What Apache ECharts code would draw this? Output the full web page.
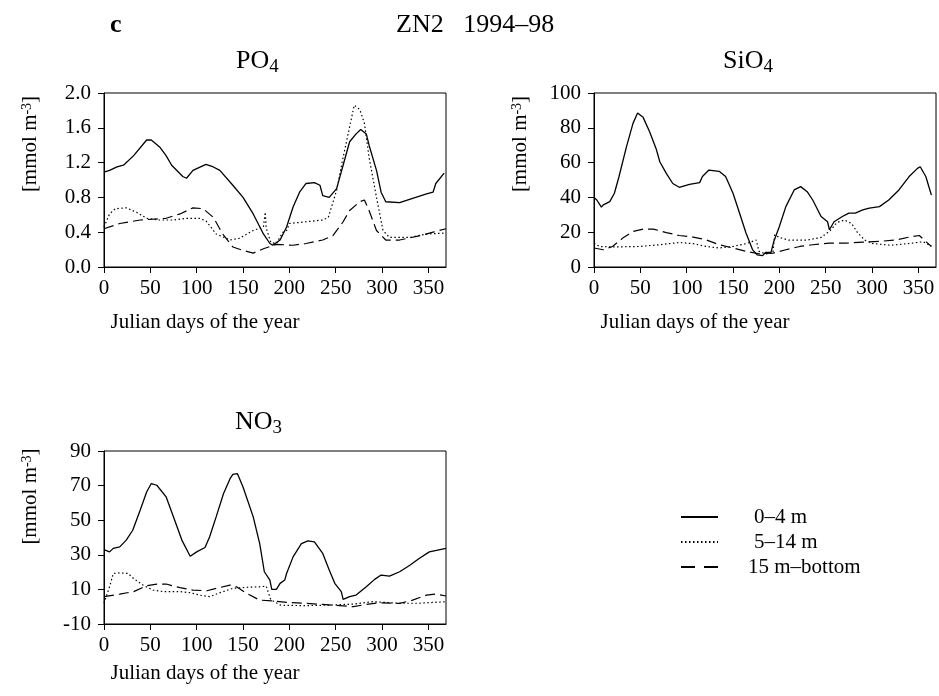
<!DOCTYPE html>
<html>
<head>
<meta charset="utf-8">
<script src="https://cdn.jsdelivr.net/npm/echarts@6/dist/echarts.min.js"></script>
<style>
html, body { margin: 0; padding: 0; background: #fff; }
#main { width: 939px; height: 696px; }
</style>
</head>
<body>
<div id="main"></div>
<script>
// series names (depth layers)
var layers = ['0\u20134 m', '5\u201314 m', '15 m\u2013bottom'];
var xTicks = [0, 50, 100, 150, 200, 250, 300, 350];

// PO4 [day, mmol m-3]
var po4Surf = [[0,1.09],[6,1.11],[14,1.15],[21,1.17],[32,1.28],[46,1.46],[51,1.46],[60,1.38],[67,1.28],[73,1.17],
  [85,1.04],[89,1.02],[96,1.11],[110,1.18],[118,1.15],[125,1.11],[139,0.94],[150,0.80],[161,0.61],[172,0.38],
  [179,0.27],[182,0.25],[190,0.31],[197,0.46],[204,0.69],[211,0.86],[218,0.96],[227,0.97],[233,0.94],[236,0.82],
  [243,0.80],[251,0.90],[258,1.17],[265,1.44],[272,1.53],[277,1.58],[283,1.53],[286,1.40],[294,1.11],[299,0.86],
  [304,0.75],[319,0.74],[333,0.79],[348,0.84],[355,0.86],[358,0.96],[367,1.08]];
var po4Mid = [[0,0.46],[6,0.61],[12,0.67],[24,0.68],[35,0.63],[46,0.56],[60,0.54],[75,0.54],[89,0.56],[103,0.56],
  [110,0.53],[121,0.38],[136,0.31],[146,0.33],[161,0.42],[172,0.46],[174,0.63],[175,0.45],[180,0.28],[186,0.27],
  [193,0.40],[197,0.42],[200,0.50],[218,0.52],[236,0.54],[242,0.57],[251,0.88],[258,1.26],[265,1.61],[270,1.86],
  [276,1.81],[281,1.65],[286,1.26],[294,0.80],[301,0.42],[308,0.34],[330,0.34],[348,0.38],[369,0.39]];
var po4Bot = [[0,0.44],[17,0.50],[39,0.54],[67,0.56],[82,0.61],[96,0.68],[107,0.67],[118,0.57],[128,0.38],[139,0.23],
  [150,0.19],[161,0.16],[172,0.21],[186,0.26],[204,0.25],[218,0.27],[236,0.31],[247,0.36],[258,0.52],[265,0.65],
  [276,0.75],[281,0.77],[286,0.65],[294,0.42],[304,0.31],[319,0.31],[341,0.36],[355,0.40],[369,0.44]];

// SiO4
var sio4Surf = [[0,40],[3,38.5],[8,34.4],[10,35.7],[17,37.6],[22,42.4],[27,52],[35,69],[42,82.4],[47,88.5],
  [53,86],[60,77.7],[67,68],[71,60.5],[78,53.8],[85,48],[92,45.8],[103,47.5],[114,48.5],[117,52],[124,55.7],
  [135,55],[142,52],[150,42.4],[157,31],[164,19.5],[171,10],[176,7],[182,6.5],[185,8.4],[191,8.4],[194,14.7],
  [200,23.3],[207,34.7],[216,44.3],[223,46.2],[230,43.3],[236,38.5],[245,29],[252,26],[254,21.4],[259,26],
  [268,29],[275,31],[282,31],[290,32.8],[297,33.8],[308,34.7],[318,38.5],[329,44.3],[340,52],[349,56.7],
  [352,57.6],[358,52],[364,41.4]];
var sio4Mid = [[0,13.7],[6,11.8],[20,11.5],[49,11.8],[71,12.8],[92,14.1],[107,13.4],[121,11.8],[135,10.9],
  [150,11.8],[164,13.4],[175,15.5],[178,9],[185,7.5],[193,8],[195,18.5],[200,17],[210,15.5],[230,15.5],
  [245,17],[255,21],[262,25.5],[270,27],[278,25],[284,20],[292,15.5],[300,13.5],[320,12.5],[340,13.5],
  [355,14.5],[364,12]];
var sio4Bot = [[0,10.9],[10,9.9],[20,11.8],[31,16.6],[42,20.4],[53,21.8],[64,21.8],[78,19.8],[92,18.1],
  [107,17.2],[121,15.6],[135,12.8],[150,10.9],[164,9],[178,7.6],[193,8],[207,9.9],[222,11.8],[236,12.8],
  [254,13.7],[272,13.7],[290,14.3],[308,14.7],[326,15.6],[344,17.6],[351,18.1],[356,15.6],[364,11.8]];

// NO3
var no3Surf = [[0,33],[6,31.7],[10,33.7],[17,34.6],[24,38.5],[31,44.2],[39,55.8],[46,66.3],[51,71.2],[57,70.2],
  [67,63.5],[75,51.9],[84,38.5],[93,29.2],[100,31.7],[109,34.2],[114,40.4],[121,51.9],[129,65.4],[136,74],
  [139,76.5],[144,76.9],[150,69.2],[161,51.9],[168,36.5],[173,20.2],[179,15.4],[181,10],[186,10],[190,13.5],
  [195,15.4],[197,19.2],[204,28.8],[213,36.5],[220,38],[227,37.5],[236,30.8],[243,21.2],[249,13.5],[256,8.7],
  [258,4.2],[265,5.8],[272,6.7],[283,11.5],[292,15.8],[299,18.3],[308,17.7],[319,20.2],[330,24],[340,27.9],
  [351,31.7],[369,33.7]];
var no3Mid = [[0,2],[6,11.5],[10,19.2],[17,19.6],[26,19.2],[32,16.3],[42,12.5],[53,9.6],[64,8.7],[82,8.7],
  [93,8.1],[103,6.7],[114,5.8],[125,8.1],[139,10.6],[154,11.2],[168,11.5],[175,11.9],[180,4],[190,1],
  [195,0.8],[218,0.6],[247,1],[269,1.5],[290,2.9],[319,2],[340,2],[369,2.9]];
var no3Bot = [[0,5.8],[17,7.3],[32,8.7],[46,12.1],[57,13.1],[67,13.1],[82,11],[96,9.6],[111,9.2],[121,10.6],
  [136,12.5],[143,11.5],[154,7.7],[168,3.8],[182,3.3],[197,2.5],[218,1.9],[236,1.3],[254,0.6],[269,0],
  [283,1.3],[297,2.3],[319,1.9],[333,3.8],[348,6.7],[358,7.3],[369,6.2]];

var FONT = 'Liberation Serif';
var myChart = echarts.init(document.getElementById('main'), null, {renderer: 'canvas'});

var lineTypes = ['solid', [1.5, 2.5], [10, 5]];

var makeX = function (i, gap) {
  return {
    type: 'value', gridIndex: i, min: 0, max: 369, interval: 50,
    name: 'Julian days of the year', nameLocation: 'middle', nameGap: gap,
    nameTextStyle: {fontFamily: FONT, fontSize: 21, color: '#000', padding: [0, 140, 0, 0]},
    axisLine: {show: true, onZero: false, lineStyle: {color: '#000', width: 1}},
    axisTick: {show: true, inside: false, length: 6, lineStyle: {color: '#000'}},
    axisLabel: {fontFamily: FONT, fontSize: 21, color: '#000', margin: 11, showMaxLabel: false},
    splitLine: {show: false}
  };
};
var makeY = function (i, min, max, step, fmt, shift) {
  return {
    type: 'value', gridIndex: i, min: min, max: max, interval: step,
    name: '[mmol m{sup|-3}]', nameLocation: 'middle', nameGap: 63, nameRotate: 90,
    nameTextStyle: {fontFamily: FONT, fontSize: 21, color: '#000', padding: [0, 0, 0, shift],
      rich: {sup: {fontFamily: FONT, fontSize: 14, color: '#000', verticalAlign: 'top'}}},
    axisLine: {show: true, onZero: false, lineStyle: {color: '#000', width: 1}},
    axisTick: {show: true, inside: false, length: 6, lineStyle: {color: '#000'}},
    axisLabel: {fontFamily: FONT, fontSize: 21, color: '#000', margin: 13, formatter: fmt},
    splitLine: {show: false}
  };
};
var makeSeries = function (g, arrs) {
  return arrs.map(function (d, k) {
    return {
      name: layers[k], type: 'line', xAxisIndex: g, yAxisIndex: g, data: d,
      showSymbol: false, symbol: 'none', smooth: false, animation: false,
      lineStyle: {color: '#000', width: k == 0 ? 1.3 : 1.2, type: lineTypes[k]},
      itemStyle: {color: '#000'}
    };
  });
};
var subTitle = function (main, sub, left, top) {
  return {
    text: '{a|' + main + '}{b|' + sub + '}', left: left, top: top, padding: 0,
    textStyle: {fontWeight: 'normal', rich: {
      a: {fontFamily: FONT, fontSize: 26, fontWeight: 'normal', color: '#000'},
      b: {fontFamily: FONT, fontSize: 19, fontWeight: 'normal', color: '#000', padding: [12, 0, 0, 0]}
    }}
  };
};

var option = {
  backgroundColor: '#fff',
  animation: false,
  title: [
    {text: 'c', left: 110, top: 12, padding: 0, textStyle: {fontFamily: FONT, fontSize: 26, fontWeight: 'bold', color: '#000'}},
    {text: 'ZN2   1994\u201398', left: 396, top: 12, padding: 0, textStyle: {fontFamily: FONT, fontSize: 26, fontWeight: 'normal', color: '#000'}},
    subTitle('PO', '4', 236, 46),
    subTitle('SiO', '4', 723, 46),
    subTitle('NO', '3', 235, 407)
  ],
  legend: {
    orient: 'vertical', left: 675, top: 501, itemWidth: 37, itemHeight: 14, itemGap: 3,
    itemStyle: {color: 'rgba(0,0,0,0)', borderColor: 'rgba(0,0,0,0)', borderWidth: 0},
    textStyle: {fontFamily: FONT, fontSize: 21, color: '#000', lineHeight: 22, padding: [0, 0, 0, 31]},
    data: [
      {name: layers[0]},
      {name: layers[1]},
      {name: layers[2], lineStyle: {type: [14, 9]}, textStyle: {padding: [0, 0, 0, 25]}}
    ]
  },
  grid: [
    {left: 104, top: 93, width: 342, height: 174, show: true, borderColor: '#000', borderWidth: 1, containLabel: false},
    {left: 594, top: 93, width: 342, height: 174, show: true, borderColor: '#000', borderWidth: 1, containLabel: false},
    {left: 104, top: 451, width: 342, height: 173, show: true, borderColor: '#000', borderWidth: 1, containLabel: false}
  ],
  xAxis: [makeX(0, 45), makeX(1, 45), makeX(2, 39)],
  yAxis: [
    makeY(0, 0, 2, 0.4, function (v) { return v.toFixed(1); }, 72),
    makeY(1, 0, 100, 20, null, 72),
    makeY(2, -10, 90, 20, null, 82)
  ],
  series: [].concat(
    makeSeries(0, [po4Surf, po4Mid, po4Bot]),
    makeSeries(1, [sio4Surf, sio4Mid, sio4Bot]),
    makeSeries(2, [no3Surf, no3Mid, no3Bot])
  )
};
myChart.setOption(option);
</script>
</body>
</html>
